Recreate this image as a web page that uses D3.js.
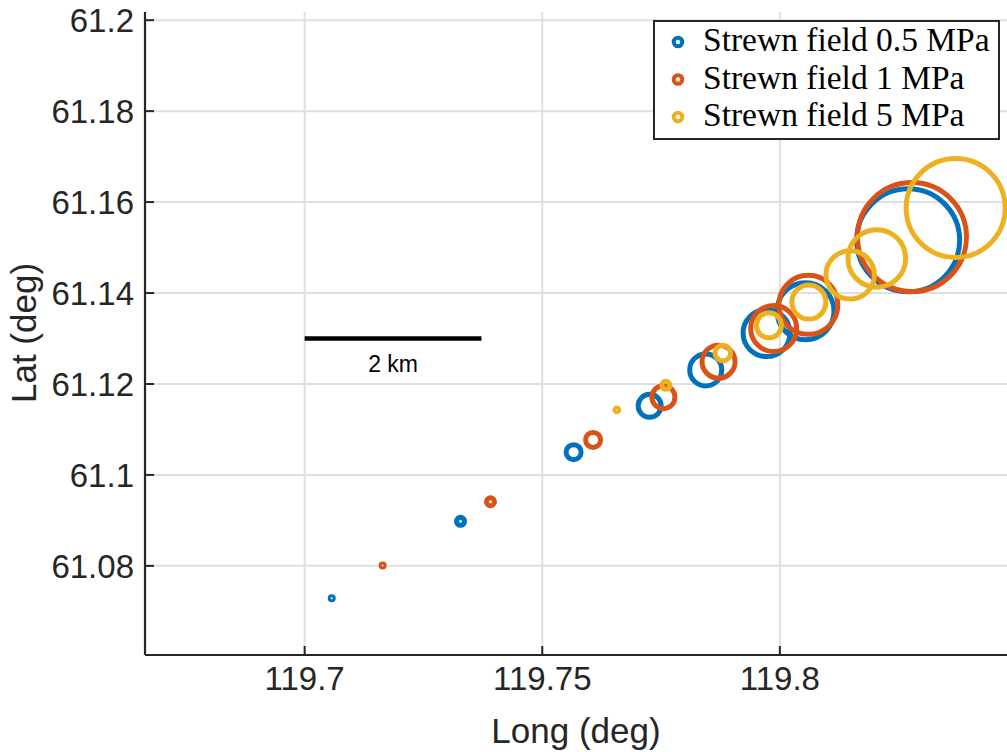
<!DOCTYPE html>
<html>
<head>
<meta charset="utf-8">
<script src="https://cdn.jsdelivr.net/npm/d3@7"></script>
<style>
  body { margin: 0; background: #fff; }
  svg { display: block; }
</style>
</head>
<body>
<div class="chart"></div>
<script>
const WIDTH = 1007;
const HEIGHT = 752;

// strewn field points
const lon05 = [119.7057, 119.7328, 119.7566, 119.7726, 119.7844, 119.7972, 119.8054, 119.8270];
const lat05 = [61.0729, 61.0898, 61.1050, 61.1152, 61.1231, 61.1312, 61.1360, 61.1516];
const size05 = [4, 6.5, 10, 14, 18.5, 26, 31, 54];

const lon1 = [119.7164, 119.7391, 119.7607, 119.7755, 119.7871, 119.7987, 119.8060, 119.8278];
const lat1 = [61.0801, 61.0941, 61.1077, 61.1171, 61.1249, 61.1322, 61.1374, 61.1523];
const size1 = [4, 6.5, 10, 14, 19, 25.5, 32, 57];

const lon5 = [119.7657, 119.7760, 119.7880, 119.7977, 119.8061, 119.8148, 119.8204, 119.8370];
const lat5 = [61.1143, 61.1197, 61.1268, 61.1329, 61.1380, 61.1440, 61.1476, 61.1587];
const size5 = [4.3, 6.5, 10.3, 15, 19.5, 26.7, 31.3, 52];

const seriesNames = ["Strewn field 0.5 MPa", "Strewn field 1 MPa", "Strewn field 5 MPa"];
const seriesColors = ["#0072BD", "#D95319", "#EDB120"];

const xTicks = [119.7, 119.75, 119.8];
const yTicks = [61.08, 61.1, 61.12, 61.14, 61.16, 61.18, 61.2];

// 2 km scale bar at lat 61.13
const barLon = 119.7;
const barLat = 61.13;
const barKm = 2;

const plot = { left: 145, right: 1007, top: 12, bottom: 655 };

const x = d3.scaleLinear().domain([119.6664, 119.8478]).range([plot.left, plot.right]);
const y = d3.scaleLinear().domain([61.0604, 61.2018]).range([plot.bottom, plot.top]);
const rScale = d3.scaleLinear().domain([0, 60]).range([0, 60]);

const svg = d3.select(".chart").append("svg")
  .attr("width", WIDTH)
  .attr("height", HEIGHT);

const AXIS = "#262626";
const GRID = "#dfdfdf";
const SANS = "'Liberation Sans', Arial, Helvetica, sans-serif";

// grid
svg.append("g").selectAll("line").data(xTicks).join("line")
  .attr("x1", d => x(d)).attr("x2", d => x(d))
  .attr("y1", plot.top).attr("y2", plot.bottom)
  .attr("stroke", GRID).attr("stroke-width", 2);
svg.append("g").selectAll("line").data(yTicks).join("line")
  .attr("x1", plot.left).attr("x2", plot.right)
  .attr("y1", d => y(d)).attr("y2", d => y(d))
  .attr("stroke", GRID).attr("stroke-width", 2);

// scale bar
const kmPerDeg = 111.32 * Math.cos(barLat * Math.PI / 180);
const barEnd = barLon + barKm / kmPerDeg;
svg.append("line")
  .attr("x1", x(barLon)).attr("x2", x(barEnd))
  .attr("y1", y(barLat)).attr("y2", y(barLat))
  .attr("stroke", "#000").attr("stroke-width", 4.5);
svg.append("text")
  .attr("x", (x(barLon) + x(barEnd)) / 2)
  .attr("y", y(barLat) + 33)
  .attr("text-anchor", "middle")
  .attr("font-family", SANS)
  .attr("font-size", "23px")
  .attr("fill", "#000")
  .text(barKm + " km");

// circles
const SW = 5;
const allSeries = [
  { lon: lon05, lat: lat05, size: size05 },
  { lon: lon1, lat: lat1, size: size1 },
  { lon: lon5, lat: lat5, size: size5 },
];
svg.append("clipPath").attr("id", "plotclip").append("rect")
  .attr("x", plot.left).attr("y", plot.top)
  .attr("width", plot.right - plot.left).attr("height", plot.bottom - plot.top);

const marks = svg.append("g").attr("clip-path", "url(#plotclip)");
allSeries.forEach((s, i) => {
  const pts = s.lon.map((lo, j) => ({ lon: lo, lat: s.lat[j], size: s.size[j] }));
  marks.append("g").selectAll("circle").data(pts).join("circle")
    .attr("cx", d => x(d.lon))
    .attr("cy", d => y(d.lat))
    .attr("r", d => Math.max(0.6, rScale(d.size) - SW / 2))
    .attr("fill", "none")
    .attr("stroke", seriesColors[i])
    .attr("stroke-width", SW);
});

// axes
const xAxis = svg.append("g");
xAxis.append("line")
  .attr("x1", plot.left).attr("x2", plot.right)
  .attr("y1", plot.bottom).attr("y2", plot.bottom)
  .attr("stroke", AXIS).attr("stroke-width", 2.2);
xAxis.selectAll(".tk").data(xTicks).join("line")
  .attr("x1", d => x(d)).attr("x2", d => x(d))
  .attr("y1", plot.bottom).attr("y2", plot.bottom - 9)
  .attr("stroke", AXIS).attr("stroke-width", 2);
xAxis.selectAll("text").data(xTicks).join("text")
  .attr("x", d => x(d))
  .attr("y", 690)
  .attr("text-anchor", "middle")
  .attr("font-family", SANS)
  .attr("font-size", "33px")
  .attr("fill", AXIS)
  .text(d => d3.format("~g")(d));

const yAxis = svg.append("g");
yAxis.append("line")
  .attr("x1", plot.left).attr("x2", plot.left)
  .attr("y1", plot.top).attr("y2", plot.bottom)
  .attr("stroke", AXIS).attr("stroke-width", 2.2);
yAxis.selectAll(".tk").data(yTicks).join("line")
  .attr("x1", plot.left).attr("x2", plot.left + 9)
  .attr("y1", d => y(d)).attr("y2", d => y(d))
  .attr("stroke", AXIS).attr("stroke-width", 2);
yAxis.selectAll("text").data(yTicks).join("text")
  .attr("x", 134)
  .attr("y", d => y(d))
  .attr("dy", "0.36em")
  .attr("text-anchor", "end")
  .attr("font-family", SANS)
  .attr("font-size", "33px")
  .attr("fill", AXIS)
  .text(d => d3.format("~g")(d));

svg.append("text")
  .attr("x", (plot.left + plot.right) / 2)
  .attr("y", 743)
  .attr("text-anchor", "middle")
  .attr("font-family", SANS)
  .attr("font-size", "35px")
  .attr("fill", AXIS)
  .text("Long (deg)");

svg.append("text")
  .attr("transform", "translate(36,333) rotate(-90)")
  .attr("text-anchor", "middle")
  .attr("font-family", SANS)
  .attr("font-size", "35px")
  .attr("fill", AXIS)
  .text("Lat (deg)");

// legend
const legend = svg.append("g");
legend.append("rect")
  .attr("x", 654).attr("y", 21)
  .attr("width", 345).attr("height", 118)
  .attr("fill", "#fff")
  .attr("stroke", AXIS).attr("stroke-width", 2);
const rows = legend.selectAll(".row").data(seriesNames).join("g")
  .attr("transform", (d, i) => `translate(0, ${42 + i * 37.5})`);
rows.append("circle")
  .attr("cx", 678).attr("cy", 0)
  .attr("r", 4.3)
  .attr("fill", "none")
  .attr("stroke", (d, i) => seriesColors[i])
  .attr("stroke-width", 4);
rows.append("text")
  .attr("x", 703)
  .attr("y", 9)
  .attr("font-family", "'Liberation Serif', 'Times New Roman', serif")
  .attr("font-size", "33.5px")
  .attr("fill", "#000")
  .text(d => d);
</script>
</body>
</html>
